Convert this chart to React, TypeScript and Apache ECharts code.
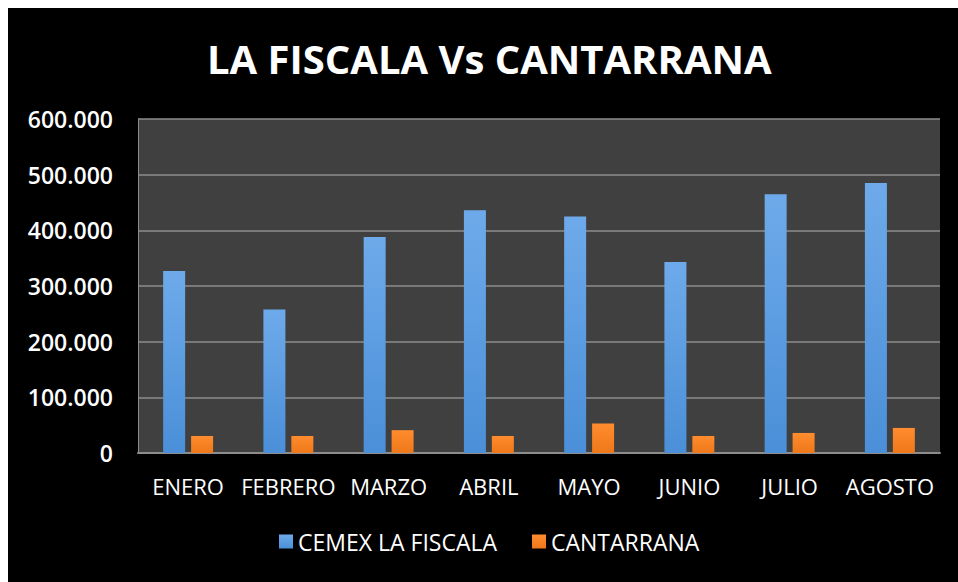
import React, { useEffect, useRef } from "react";
import * as echarts from "echarts";

const titleText = "LA FISCALA Vs CANTARRANA";
const categories = ["ENERO", "FEBRERO", "MARZO", "ABRIL", "MAYO", "JUNIO", "JULIO", "AGOSTO"];
const seriesNames = ["CEMEX LA FISCALA", "CANTARRANA"];
const fiscala = [327000, 258000, 388000, 436000, 425000, 343000, 465000, 485000];
const cantarrana = [30500, 30500, 41000, 30500, 53000, 30500, 36000, 45000];
const yMin = 0;
const yMax = 600000;
const yStep = 100000;

const FONT = "'Open Sans', 'Liberation Sans', sans-serif";

function fmt(v: number): string {
  return String(Math.round(v)).replace(/\B(?=(\d{3})+(?!\d))/g, ".");
}

export default function App() {
  const ref = useRef<HTMLDivElement>(null);
  useEffect(() => {
    if (!ref.current) return;
    const chart = echarts.init(ref.current, null, { renderer: "svg" });
    const blue = new echarts.graphic.LinearGradient(0, 0, 0, 1, [
      { offset: 0, color: "#6eaaea" },
      { offset: 1, color: "#4a8fd8" },
    ]);
    const orange = new echarts.graphic.LinearGradient(0, 0, 0, 1, [
      { offset: 0, color: "#ff8c2e" },
      { offset: 1, color: "#ee781a" },
    ]);
    chart.setOption({
      animation: false,
      backgroundColor: "#000000",
      title: {
        text: titleText,
        left: 194,
        top: 25,
        textStyle: { color: "#ffffff", fontFamily: FONT, fontWeight: "bold", fontSize: 40 },
      },
      legend: {
        data: seriesNames,
        bottom: 24,
        left: 266,
        itemWidth: 14,
        itemHeight: 14,
        itemGap: 35,
        icon: "rect",
        textStyle: { color: "#ffffff", fontFamily: FONT, fontSize: 23, padding: [0, 0, 0, 0] },
      },
      grid: {
        left: 130,
        right: 18,
        top: 111,
        bottom: 129,
        show: true,
        backgroundColor: "#404040",
        borderWidth: 0,
      },
      xAxis: {
        type: "category",
        data: categories,
        axisLine: { show: true, lineStyle: { color: "#8c8c8c", width: 2 } },
        axisTick: { show: false },
        axisLabel: { color: "#ffffff", fontFamily: FONT, fontSize: 22, margin: 22, interval: 0 },
      },
      yAxis: {
        type: "value",
        min: yMin,
        max: yMax,
        interval: yStep,
        axisLine: { show: true, lineStyle: { color: "#8c8c8c", width: 1 } },
        axisTick: { show: false },
        splitLine: { show: true, lineStyle: { color: "#8c8c8c", width: 1.5 } },
        axisLabel: {
          color: "#ffffff",
          fontFamily: FONT,
          fontWeight: 600,
          fontSize: 23,
          margin: 25,
          formatter: (v: number) => fmt(v),
        },
      },
      series: [
        {
          name: seriesNames[0],
          type: "bar",
          data: fiscala,
          barWidth: 22,
          barGap: "27%",
          itemStyle: { color: blue },
        },
        {
          name: seriesNames[1],
          type: "bar",
          data: cantarrana,
          barWidth: 22,
          itemStyle: { color: orange },
        },
      ],
    });
    return () => chart.dispose();
  }, []);
  return (
    <div
      ref={ref}
      style={{ position: "fixed", left: 8, top: 8, width: 950, height: 574, background: "#000" }}
    />
  );
}
